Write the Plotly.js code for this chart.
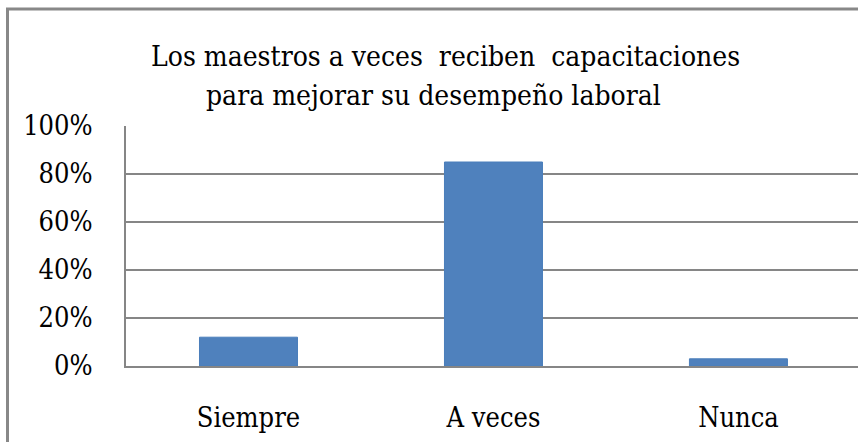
<!DOCTYPE html>
<html>
<head>
<meta charset="utf-8">
<script src="https://cdn.plot.ly/plotly-3.0.1.min.js"></script>
<style>html,body{margin:0;padding:0;background:#fff;}#chart{width:858px;height:442px;}</style>
</head>
<body>
<div id="chart"></div>
<script>
const categories = ["Siempre", "A veces", "Nunca"];
const values = [0.12, 0.85, 0.03];
const titleLines = ["Los maestros a veces  reciben  capacitaciones", "para mejorar su desempeño laboral"];
const yTickVals = [0, 0.2, 0.4, 0.6, 0.8, 1.0];
const yTickText = ["0%", "20%", "40%", "60%", "80%", "100%"];

const FONT = "DejaVu Serif Condensed";
const L = 126, T = 126, W = 858, H = 442, B = 366;
const pw = W - L, ph = B - T;
const px = x => (x - L) / pw;
const py = y => (B - y) / ph;

const trace = {
  type: "bar",
  x: categories,
  y: values,
  width: 0.4,
  marker: {color: "#4F81BD", line: {color: "#4A7EBB", width: 1}},
  hoverinfo: "none"
};

const layout = {
  width: W, height: H,
  margin: {l: L, r: 0, t: T, b: H - B, pad: 0},
  paper_bgcolor: "#ffffff",
  plot_bgcolor: "#ffffff",
  showlegend: false,
  font: {family: FONT, color: "#000000", size: 27},
  xaxis: {
    type: "category",
    range: [-0.5, 2.488],
    showgrid: false,
    showline: true, linecolor: "#868686", linewidth: 2,
    ticks: "", ticklabelstandoff: 27,
    tickfont: {family: FONT, size: 27, color: "#000"},
    fixedrange: true
  },
  yaxis: {
    range: [0, 1.0],
    tickvals: yTickVals, ticktext: yTickText,
    showgrid: true, gridcolor: "#868686", gridwidth: 2,
    zeroline: false,
    showline: true, linecolor: "#868686", linewidth: 2,
    ticks: "",
    ticklabelstandoff: 26,
    tickfont: {family: FONT, size: 27, color: "#000"},
    fixedrange: true
  },
  annotations: [
    {text: titleLines[0], xref: "paper", yref: "paper", x: px(445), y: py(57), xanchor: "center", yanchor: "middle", showarrow: false, font: {family: FONT, size: 28, color: "#000"}},
    {text: titleLines[1], xref: "paper", yref: "paper", x: px(433), y: py(95), xanchor: "center", yanchor: "middle", showarrow: false, font: {family: FONT, size: 28, color: "#000"}}
  ],
  shapes: [
    {type: "line", xref: "paper", yref: "paper", x0: px(7.5), x1: px(7.5), y0: py(8), y1: py(445), line: {color: "#888888", width: 3}},
    {type: "line", xref: "paper", yref: "paper", x0: px(6), x1: px(860), y0: py(9), y1: py(9), line: {color: "#888888", width: 3}}
  ]
};

Plotly.newPlot("chart", [trace], layout, {displayModeBar: false, staticPlot: true});
</script>
</body>
</html>
